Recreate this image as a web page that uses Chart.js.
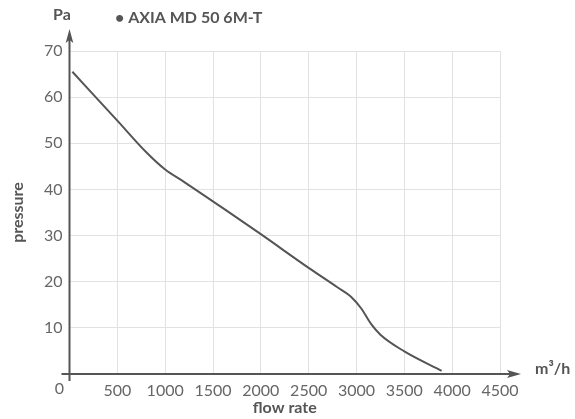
<!DOCTYPE html>
<html>
<head>
<meta charset="utf-8">
<script src="https://cdn.jsdelivr.net/npm/chart.js@4"></script>
<style>
  html, body { margin: 0; padding: 0; background: #fff; }
  #wrap { width: 575px; height: 419px; position: relative; }
</style>
</head>
<body>
<div id="wrap"><canvas id="fanChart"></canvas></div>
<script>
// === Fan curve: AXIA MD 50 6M-T ===
const flowRate = [30, 500, 800, 1000, 1200, 1600, 2000, 2500, 2800, 2950, 3050, 3150, 3250, 3500, 3890];
const pressure = [65.5, 54.9, 48.1, 44.3, 41.6, 36.0, 30.3, 23.0, 18.8, 16.6, 14.2, 10.9, 8.5, 4.9, 0.7];
const xTicks = [0, 500, 1000, 1500, 2000, 2500, 3000, 3500, 4000, 4500];
const yTicks = [10, 20, 30, 40, 50, 60, 70];

const seriesName = "• AXIA MD 50 6M-T";
const ink = "#555555";
const tickInk = "#666666";
const fontFamily = "Lato, 'Open Sans', sans-serif";

// axis lines with arrows, plus the loose labels around the plot
const axisArrows = {
  id: "axisArrows",
  afterDraw(chart) {
    const { ctx, scales: { x, y } } = chart;
    const x0 = x.getPixelForValue(0);
    const y0 = y.getPixelForValue(0);
    ctx.save();
    ctx.strokeStyle = ink;
    ctx.fillStyle = ink;
    ctx.lineWidth = 2;

    // y axis
    ctx.beginPath();
    ctx.moveTo(x0, y0 + 7);
    ctx.lineTo(x0, 38);
    ctx.stroke();
    ctx.beginPath();
    ctx.moveTo(x0, 29);
    ctx.lineTo(x0 + 3.8, 43);
    ctx.lineTo(x0, 40);
    ctx.lineTo(x0 - 3.8, 43);
    ctx.closePath();
    ctx.fill();

    // x axis
    ctx.beginPath();
    ctx.moveTo(x0 - 8, y0);
    ctx.lineTo(512, y0);
    ctx.stroke();
    ctx.beginPath();
    ctx.moveTo(521, y0);
    ctx.lineTo(507, y0 - 4);
    ctx.lineTo(510, y0);
    ctx.lineTo(507, y0 + 4);
    ctx.closePath();
    ctx.fill();

    // texts
    ctx.textBaseline = "middle";
    ctx.fillStyle = tickInk;
    ctx.font = "16px " + fontFamily;
    ctx.textAlign = "center";
    ctx.fillText("0", x0 - 10, y0 + 15);

    ctx.fillStyle = ink;
    ctx.font = "bold 16px " + fontFamily;
    ctx.fillText("Pa", 62, 15);
    ctx.textAlign = "left";
    ctx.fillText("m³/h", 535, y0 - 5);

    ctx.font = "bold 16px " + fontFamily;
    ctx.fillText(seriesName, 115, 18);
    ctx.restore();
  }
};

new Chart(document.getElementById("fanChart"), {
  type: "line",
  data: {
    datasets: [{
      label: seriesName,
      data: flowRate.map((v, i) => ({ x: v, y: pressure[i] })),
      borderColor: ink,
      borderWidth: 2,
      pointRadius: 0,
      fill: false,
      cubicInterpolationMode: "monotone"
    }]
  },
  options: {
    responsive: true,
    maintainAspectRatio: false,
    animation: false,
    layout: { padding: { top: 51, right: 75, left: 0, bottom: 0 } },
    plugins: {
      legend: { display: false },
      tooltip: { enabled: false }
    },
    scales: {
      x: {
        type: "linear",
        min: 0,
        max: 4500,
        afterFit: (s) => { s.height = 45; },
        afterBuildTicks: (s) => { s.ticks = xTicks.map(v => ({ value: v })); },
        border: { display: false },
        grid: { color: "#e2e2e2", lineWidth: 1, drawTicks: false },
        ticks: {
          color: tickInk,
          padding: 7,
          font: { family: fontFamily, size: 16 },
          callback: (v) => (v === 0 ? "" : v)
        },
        title: {
          display: true,
          text: "flow rate",
          color: ink,
          font: { family: fontFamily, size: 16, weight: "bold" },
          padding: { top: 0, bottom: 2 }
        }
      },
      y: {
        min: 0,
        max: 70,
        afterFit: (s) => { s.width = 69.5; },
        afterBuildTicks: (s) => { s.ticks = yTicks.map(v => ({ value: v })); },
        border: { display: false },
        grid: { color: "#e2e2e2", lineWidth: 1, drawTicks: false },
        ticks: {
          color: tickInk,
          padding: 7,
          font: { family: fontFamily, size: 16 }
        },
        title: {
          display: true,
          text: "pressure",
          color: ink,
          font: { family: fontFamily, size: 16, weight: "bold" },
          padding: { top: 8, bottom: 0 }
        }
      }
    }
  },
  plugins: [axisArrows]
});
</script>
</body>
</html>
